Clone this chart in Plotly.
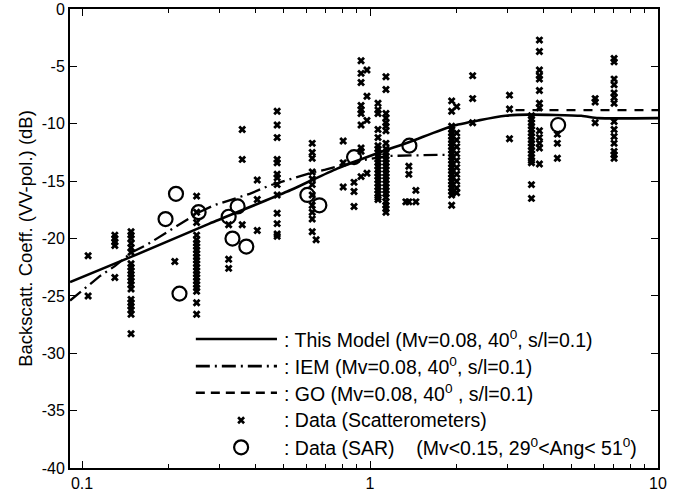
import plotly.graph_objects as go

# scatterometer data, one column of readings per roughness value
scat_cols = [0.105, 0.130, 0.148, 0.210, 0.250, 0.323, 0.360, 0.406, 0.476, 0.630, 0.650,
             0.807, 0.880, 0.931, 0.976, 1.066, 1.136, 1.332, 1.364, 1.443, 1.921, 2.0,
             2.272, 3.051, 3.636, 3.875, 4.472, 6.05, 7.04]
scat_vals = [
    [-21.5, -25.0],
    [-19.7, -20.0, -20.3, -20.6, -23.4],
    [-19.4, -19.7, -20.0, -20.4, -20.8, -21.2, -22.2, -22.5, -22.8, -23.1, -23.4, -23.7, -24.0, -24.4,
     -25.3, -25.6, -25.9, -26.2, -26.6, -28.3],
    [-22.0],
    [-16.3, -17.7, -18.6, -19.7, -20.1, -20.4, -20.7, -21.0, -21.3, -21.6, -21.9, -22.2, -22.5, -22.8,
     -23.1, -23.4, -23.7, -24.0, -24.3, -24.6, -25.6, -26.6],
    [-18.8, -21.8, -22.6],
    [-10.5, -13.1, -18.8],
    [-14.9, -16.6, -19.3],
    [-8.9, -10.1, -11.2, -13.1, -13.4, -14.4, -14.7, -15.3, -16.2, -17.8, -18.7, -19.6, -19.8],
    [-11.7, -12.5, -13.0, -14.2, -14.8, -15.3, -16.2, -17.1, -17.7, -18.3, -19.4],
    [-20.1],
    [-11.5, -13.4, -15.5],
    [-15.1, -15.9, -17.2],
    [-4.5, -5.6, -6.4, -8.4, -8.8, -9.1, -10.1, -12.1, -12.4, -14.6],
    [-5.3, -7.6, -9.7, -14.3],
    [-8.2, -8.8, -9.1, -10.5, -11.2, -11.9, -12.2, -12.5, -12.8, -13.1, -13.4, -13.7, -14.0, -14.3,
     -14.6, -14.9, -15.2, -15.5, -15.8, -16.1, -16.4, -16.6],
    [-5.9, -7.0, -9.1, -9.5, -9.9, -10.2, -10.6, -11.7, -12.2, -12.5, -12.8, -13.1, -13.4, -13.7,
     -14.0, -14.3, -14.6, -14.9, -15.2, -15.5, -15.8, -16.1, -16.4, -16.8, -17.1, -17.4, -17.7],
    [-16.8],
    [-13.7, -14.4, -16.8],
    [-15.8, -16.8],
    [-8.0, -8.9, -10.2, -10.5, -10.8, -11.1, -11.4, -11.7, -12.0, -12.3, -12.6, -12.9, -13.2, -13.5,
     -13.8, -14.1, -14.4, -14.7, -15.0, -15.3, -15.6, -15.9, -16.2, -17.1],
    [-8.5, -10.8, -11.4, -12.0, -12.6, -13.2, -13.8, -14.4, -15.0, -15.6, -16.0],
    [-5.8, -7.8, -9.9],
    [-7.5, -8.7, -11.3],
    [-9.3, -9.6, -9.9, -10.2, -10.5, -10.8, -11.1, -11.4, -11.7, -12.0, -12.3, -12.6, -12.9, -13.2,
     -13.4, -15.3, -16.5],
    [-2.7, -3.7, -5.3, -5.8, -6.1, -7.1, -8.2, -8.6, -10.6, -11.2, -11.7, -12.1, -13.5],
    [-10.9, -11.7, -13.0],
    [-7.8, -8.1, -9.9],
    [-4.3, -4.6, -6.1, -6.6, -7.3, -7.7, -8.2, -9.8, -10.5, -11.1, -11.7, -12.4, -12.7, -13.0],
]

# SAR data
sar_x = [0.195, 0.212, 0.218, 0.254, 0.323, 0.347, 0.333, 0.372, 0.606, 0.667, 0.88, 1.37, 4.5]
sar_y = [-18.3, -16.1, -24.8, -17.7, -18.1, -17.2, -20.0, -20.7, -16.2, -17.1, -12.9, -11.9, -10.1]

# model curves
model_x = [0.0909, 0.148, 0.277, 0.516, 0.769, 1.049, 1.364, 1.921, 2.384, 2.955, 3.549, 5.415, 6.2, 10.0]
model_y = [-23.8, -21.6, -18.7, -15.9, -13.9, -12.6, -11.6, -10.2, -9.7, -9.3, -9.2, -9.3, -9.5, -9.5]

iem_x = [0.0909, 0.102, 0.115, 0.130, 0.149, 0.169, 0.193, 0.219, 0.255, 0.287, 0.323, 0.382,
         0.445, 0.515, 0.638, 0.700, 0.798, 0.976, 1.149, 1.783, 1.921]
iem_y = [-25.4, -24.4, -23.3, -22.4, -21.2, -20.5, -19.6, -18.8, -17.7, -17.1, -16.7, -16.1,
         -15.4, -14.9, -14.2, -14.0, -13.6, -13.1, -12.8, -12.7, -12.7]

go_x = [3.2, 10.0]
go_y = [-8.8, -8.8]

y_ticks = [-40, -35, -30, -25, -20, -15, -10, -5, 0]
x_ticks = [0.1, 1, 10]

FONT = "Liberation Sans, Arial, sans-serif"

sx, sy = [], []
for xv, col in zip(scat_cols, scat_vals):
    sx += [xv] * len(col)
    sy += col

fig = go.Figure()
fig.add_trace(go.Scatter(x=sx, y=sy, mode="markers",
                         marker=dict(symbol="x", size=7, color="black", line=dict(width=0))))
fig.add_trace(go.Scatter(x=model_x, y=model_y, mode="lines",
                         line=dict(color="black", width=2.6, shape="spline", smoothing=0.6)))
fig.add_trace(go.Scatter(x=iem_x, y=iem_y, mode="lines",
                         line=dict(color="black", width=2.3, dash="14px,5px,2px,5px")))
fig.add_trace(go.Scatter(x=go_x, y=go_y, mode="lines",
                         line=dict(color="black", width=2.3, dash="9px,8px")))
fig.add_trace(go.Scatter(x=sar_x, y=sar_y, mode="markers",
                         marker=dict(symbol="circle-open", size=14, color="black",
                                     line=dict(width=2.2, color="black"))))

# hand-drawn legend inside the axes
rows = [0.281, 0.222, 0.164, 0.104, 0.045]
labels = [
    ": This Model (Mv=0.08, 40<sup>0</sup>, s/l=0.1)",
    ": IEM (Mv=0.08, 40<sup>0</sup>, s/l=0.1)",
    ": GO (Mv=0.08, 40<sup>0</sup> , s/l=0.1)",
    ": Data (Scatterometers)",
    ": Data (SAR)    (Mv&lt;0.15, 29<sup>0</sup>&lt;Ang&lt; 51<sup>0</sup>)",
]
shapes = []
dashes = ["solid", "14px,5px,2px,5px", "9px,6px"]
for ry, d in zip(rows[:3], dashes):
    shapes.append(dict(type="line", xref="paper", yref="paper", x0=0.214, x1=0.352, y0=ry, y1=ry,
                       line=dict(color="black", width=2.6, dash=d)))
shapes.append(dict(type="path", xref="paper", yref="paper", xsizemode="pixel", ysizemode="pixel",
                   xanchor=0.291, yanchor=rows[3], path="M-3,-3 L3,3 M-3,3 L3,-3",
                   line=dict(color="black", width=2.6)))
shapes.append(dict(type="circle", xref="paper", yref="paper", xsizemode="pixel", ysizemode="pixel",
                   xanchor=0.291, yanchor=rows[4], x0=-7, x1=7, y0=-7, y1=7,
                   line=dict(color="black", width=2.2)))

annotations = [dict(x=0.36, y=ry, xref="paper", yref="paper", text=t, showarrow=False,
                    xanchor="left", yanchor="middle", font=dict(family=FONT, size=19.5, color="black"))
               for ry, t in zip(rows, labels)]

fig.update_layout(
    width=676, height=501,
    margin=dict(l=70, r=18, t=9, b=33, autoexpand=False),
    paper_bgcolor="white", plot_bgcolor="white",
    showlegend=False,
    shapes=shapes, annotations=annotations,
    font=dict(family=FONT, size=16, color="black"),
)
fig.update_xaxes(type="log", range=[-1.0417, 1.0], tickvals=x_ticks,
                 ticktext=[str(v) for v in x_ticks], automargin=False,
                 showgrid=False, zeroline=False, showline=True, linecolor="black", linewidth=2,
                 mirror="allticks", ticks="inside", ticklen=7, tickcolor="black",
                 ticklabeloverflow="allow",
                 minor=dict(ticks="inside", ticklen=4, tickcolor="black",
                            tickvals=[0.2, 0.3, 0.4, 0.5, 0.6, 0.7, 0.8, 0.9,
                                      2, 3, 4, 5, 6, 7, 8, 9]),
                 tickfont=dict(size=16))
fig.update_yaxes(range=[-40, 0.01], tickvals=y_ticks, ticktext=[str(v) for v in y_ticks],
                 automargin=False, showgrid=False, zeroline=False, showline=True,
                 linecolor="black", linewidth=2, mirror="allticks", ticks="inside", ticklen=7,
                 tickcolor="black", tickfont=dict(size=16), ticklabeloverflow="allow",
                 title=dict(text="Backscatt. Coeff. (VV-pol.) (dB)", font=dict(size=18.5), standoff=4))

fig.write_html("out.html", config={"displayModeBar": False},
               post_script="document.body.style.margin='0';")
